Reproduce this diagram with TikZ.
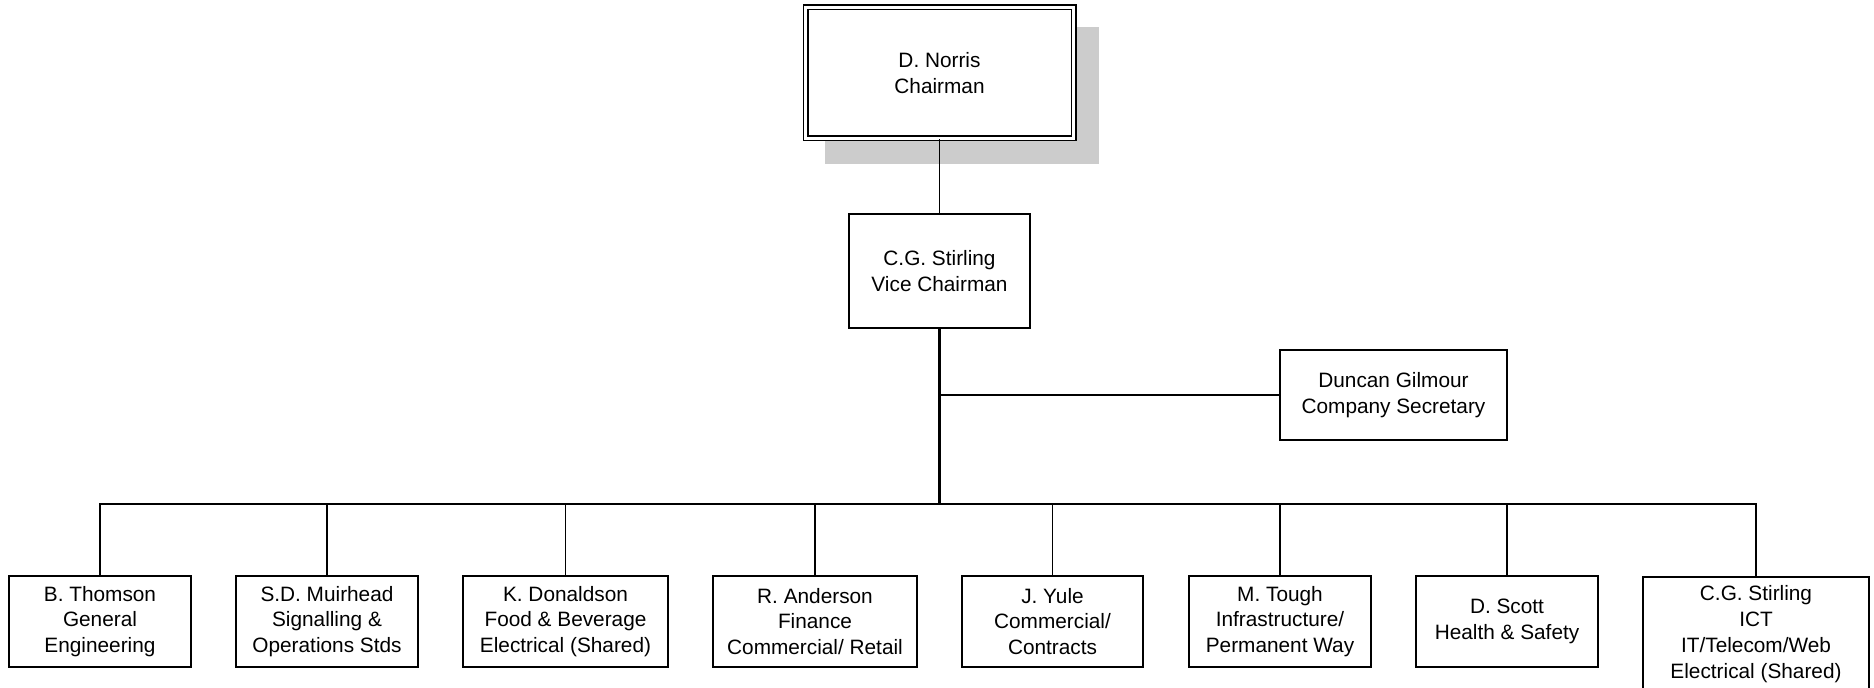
\documentclass[tikz,border=0pt]{standalone}
\usepackage{fontspec}
\setmainfont{Liberation Sans}

\begin{document}
\begin{tikzpicture}[x=0.5pt, y=-0.5pt,
    every node/.style={font=\fontsize{10.4}{12.9}\selectfont, align=center, inner sep=0pt},
    post/.style={draw, line width=0.75pt, fill=white, minimum width=91pt, minimum height=45.5pt},
    link/.style={line width=0.75pt},
    trunk/.style={line width=1.5pt}]
    \clip (0,0) rectangle (1874,688);

    % top of the tree
    \fill[gray!40] (825,27) rectangle (1099,164);
    \node[post, double, double distance=1.5pt, minimum width=134pt, minimum height=65.5pt] (chair) at (939.5,73) {D. Norris\\Chairman};
    \node[post, minimum width=90.5pt, minimum height=57pt] (vice) at (939.5,271) {C.G. Stirling\\Vice Chairman};
    \node[post, minimum width=113.5pt, minimum height=45pt] (sec) at (1393.5,395) {Duncan Gilmour\\Company Secretary};

    % directors
    \node[post] (thomson) at (100,621.5) {B. Thomson\\General\\Engineering};
    \node[post] (muirhead) at (327,621.5) {S.D. Muirhead\\Signalling \&\\Operations Stds};
    \node[post, minimum width=102.5pt] (donaldson) at (565.5,621.5) {K. Donaldson\\Food \& Beverage\\Electrical (Shared)};
    \node[post, minimum width=102pt] (anderson) at (815,621.5) {R. Anderson\\Finance\\Commercial/ Retail};
    \node[post, minimum width=90.5pt] (yule) at (1052.5,621.5) {J. Yule\\Commercial/\\Contracts};
    \node[post] (tough) at (1280,621.5) {M. Tough\\Infrastructure/\\Permanent Way};
    \node[post] (scott) at (1507,621.5) {D. Scott\\Health \& Safety};
    \node[post, minimum width=113pt, minimum height=57pt] (ict) at (1756,634) {C.G. Stirling\\ICT\\IT/Telecom/Web\\Electrical (Shared)};

    % links
    \coordinate (bus) at (939.5,504);
    \draw[link] (chair.south) -- (vice.north);
    \draw[trunk] (vice.south) -- (bus);
    \draw[link] (sec.west) -- (sec.west -| vice.south);
    \foreach \d in {thomson,muirhead,donaldson,anderson,yule,tough,scott,ict}
        \draw[link] (\d.north) |- (bus);

\end{tikzpicture}
\end{document}
